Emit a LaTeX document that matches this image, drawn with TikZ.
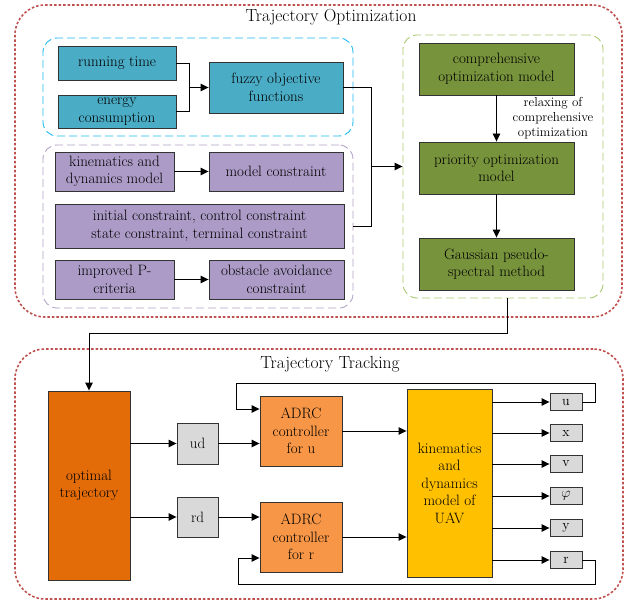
\documentclass[tikz,border=0pt]{standalone}
\usetikzlibrary{arrows.meta}
\definecolor{fillteal}{HTML}{4BACC6}
\definecolor{fillpurple}{HTML}{AB9BC6}
\definecolor{fillolive}{HTML}{77933C}
\definecolor{filldeep}{HTML}{E36C09}
\definecolor{filladrc}{HTML}{F79646}
\definecolor{fillgold}{HTML}{FFC000}
\definecolor{fillgray}{HTML}{D9D9D9}
\definecolor{lineblue}{HTML}{1FB8F0}
\definecolor{linepurple}{HTML}{B3A2C7}
\definecolor{linegreen}{HTML}{A6C86E}
\definecolor{linered}{HTML}{C0504D}
\begin{document}
\begin{tikzpicture}[x=1pt,y=-1pt,
    font=\fontsize{15}{17.5}\selectfont,
    blk/.style={draw=black!80,line width=0.9pt,align=center,inner sep=1pt},
    grp/.style={draw=#1,line width=0.9pt,dash pattern=on 8pt off 4pt,rounded corners=14pt},
    zone/.style={draw=linered,line width=1.6pt,dash pattern=on 2.5pt off 2pt,rounded corners=30pt},
    conn/.style={line width=0.9pt},
    arr/.style={conn,-{Triangle[length=8pt,width=7.5pt]}}]
  \useasboundingbox (0,0) rectangle (633,602);
  % trajectory optimization
  \node[zone,minimum width=607pt,minimum height=312pt] (zopt) at (318.5,161) {};
  \node[font=\fontsize{17.5}{20}\selectfont] (topt) at (331,17) {Trajectory Optimization};
  \node[grp=lineblue,minimum width=310pt,minimum height=98pt] (gblue) at (198,87) {};
  \node[grp=linepurple,minimum width=310pt,minimum height=163pt] (gpurple) at (198,226.5) {};
  \node[grp=linegreen,minimum width=200pt,minimum height=263pt] (ggreen) at (503,166.5) {};
  \node[blk,fill=fillteal,minimum width=118pt,minimum height=34pt] (rt) at (117,63) {running time};
  \node[blk,fill=fillteal,minimum width=118pt,minimum height=33pt] (ec) at (117,111.5) {energy\\consumption};
  \node[blk,fill=fillteal,minimum width=134pt,minimum height=51pt] (fz) at (276,87.5) {fuzzy objective\\functions};
  \node[blk,fill=fillpurple,minimum width=119pt,minimum height=39pt] (kdm) at (114.5,171.5) {kinematics and\\dynamics model};
  \node[blk,fill=fillpurple,minimum width=134pt,minimum height=39pt] (mc) at (276,171.5) {model constraint};
  \node[blk,fill=fillpurple,minimum width=289pt,minimum height=44pt] (ic) at (199.5,226) {initial constraint, control constraint\\state constraint, terminal constraint};
  \node[blk,fill=fillpurple,minimum width=119pt,minimum height=39pt] (ipc) at (114.5,279.5) {improved P-\\criteria};
  \node[blk,fill=fillpurple,minimum width=135pt,minimum height=39pt] (oac) at (276.5,279.5) {obstacle avoidance\\constraint};
  \node[blk,fill=fillolive,minimum width=155pt,minimum height=52pt] (com) at (496.5,69) {comprehensive\\optimization model};
  \node[blk,fill=fillolive,minimum width=155pt,minimum height=52pt] (pom) at (496.5,168) {priority optimization\\model};
  \node[blk,fill=fillolive,minimum width=155pt,minimum height=52pt] (gps) at (496.5,264) {Gaussian pseudo-\\spectral method};
  \node[align=center,font=\fontsize{13}{15}\selectfont] (relax) at (553,118) {relaxing of\\comprehensive\\optimization};
  \coordinate (jobj) at (189,87.5);
  \coordinate (jall) at (371,166.5);
  \draw[conn] (rt.east) -| (jobj);
  \draw[conn] (ec.east) -| (jobj);
  \draw[arr] (jobj) -- (fz.west);
  \draw[arr] (kdm.east) -- (mc.west);
  \draw[arr] (ipc.east) -- (oac.west);
  \draw[conn] (fz.east) -| (jall);
  \draw[conn] (gpurple.east |- ic.east) -| (jall);
  \draw[arr] (jall) -- (ggreen.west);
  \draw[arr] (com.south) -- (pom.north);
  \draw[arr] (pom.south) -- (gps.north);
  % trajectory tracking
  \node[zone,minimum width=608pt,minimum height=250pt] (ztrk) at (319,474) {};
  \node[font=\fontsize{17.5}{20}\selectfont] (ttrk) at (330,364) {Trajectory Tracking};
  \node[blk,fill=filldeep,minimum width=82pt,minimum height=189pt] (opt) at (89,485.5) {optimal\\trajectory};
  \node[blk,fill=fillgray,minimum width=41pt,minimum height=41pt] (ud) at (197.5,443.5) {ud};
  \node[blk,fill=fillgray,minimum width=41pt,minimum height=40pt] (rd) at (197.5,517) {rd};
  \node[blk,fill=filladrc,minimum width=82pt,minimum height=70pt] (au) at (301,431) {ADRC\\controller\\for u};
  \node[blk,fill=filladrc,minimum width=82pt,minimum height=70pt] (ar) at (301,537) {ADRC\\controller\\for r};
  \node[blk,fill=fillgold,minimum width=85pt,minimum height=188pt] (uav) at (449.5,483) {kinematics\\and\\dynamics\\model of\\UAV};
  \node[blk,fill=fillgray,minimum width=32pt,minimum height=17pt,font=\fontsize{14}{15}\selectfont] (ou) at (566,402) {u};
  \node[blk,fill=fillgray,minimum width=32pt,minimum height=17pt,font=\fontsize{14}{15}\selectfont] (ox) at (566,433) {x};
  \node[blk,fill=fillgray,minimum width=32pt,minimum height=17pt,font=\fontsize{14}{15}\selectfont] (ov) at (566,464) {v};
  \node[blk,fill=fillgray,minimum width=32pt,minimum height=17pt,font=\fontsize{14}{15}\selectfont] (ophi) at (566,496) {$\varphi$};
  \node[blk,fill=fillgray,minimum width=32pt,minimum height=17pt,font=\fontsize{14}{15}\selectfont] (oy) at (566,528) {y};
  \node[blk,fill=fillgray,minimum width=32pt,minimum height=17pt,font=\fontsize{14}{15}\selectfont] (or) at (566,560) {r};
  \draw[arr] ([xshift=4pt]ggreen.south) -- ++(0,35) -| (opt.north);
  \draw[arr] (opt.east |- ud.west) -- (ud.west);
  \draw[arr] (opt.east |- rd.west) -- (rd.west);
  \draw[arr] (ud.east) -- (au.west |- ud.east);
  \draw[arr] (rd.east) -- (ar.west |- rd.east);
  \draw[arr] (au.east) -- (uav.west |- au.east);
  \draw[arr] (ar.east) -- (uav.west |- ar.east);
  \draw[arr] (uav.east |- ou.west) -- (ou.west);
  \draw[arr] (uav.east |- ox.west) -- (ox.west);
  \draw[arr] (uav.east |- ov.west) -- (ov.west);
  \draw[arr] (uav.east |- ophi.west) -- (ophi.west);
  \draw[arr] (uav.east |- oy.west) -- (oy.west);
  \draw[arr] (uav.east |- or.west) -- (or.west);
  \coordinate (fbtop) at (595,383);
  \coordinate (fbu) at (236,409);
  \coordinate (fbbot) at (595,584);
  \coordinate (fbr) at (238,558);
  \draw[arr] (ou.east) -| (fbtop) -| (fbu) -- (au.west |- fbu);
  \draw[arr] (or.east) -| (fbbot) -| (fbr) -- (ar.west |- fbr);
\end{tikzpicture}
\end{document}
